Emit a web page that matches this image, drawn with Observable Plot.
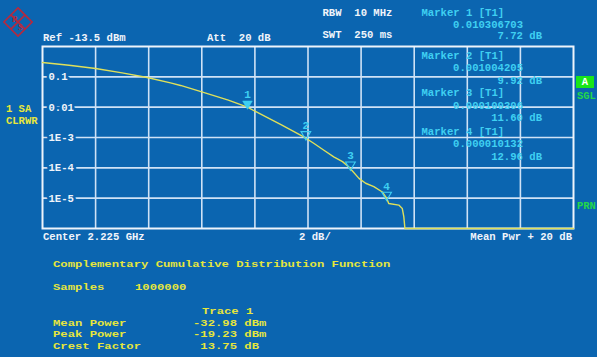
<!DOCTYPE html>
<html>
<head>
<meta charset="utf-8">
<script src="https://cdn.jsdelivr.net/npm/d3@7"></script>
<script src="https://cdn.jsdelivr.net/npm/@observablehq/plot@0.6"></script>
<style>
  html, body { margin: 0; padding: 0; background: #0b65b0; }
  #wrap { position: relative; width: 597px; height: 357px; background: #0b65b0; overflow: hidden; }
  #wrap svg.plot { position: absolute; left: 0; top: 0; }
  .t { position: absolute; font-family: "Liberation Mono", "DejaVu Sans Mono", monospace; font-weight: bold; white-space: pre; line-height: 1; }
  .w { color: #f0f4fa; font-size: 10.6px; }
  .c { color: #3fd0f2; font-size: 10.6px; }
  .y { color: #e6e63c; font-size: 9.8px; transform: scaleX(1.247); transform-origin: 0 50%; }
  .ys { color: #e6e63c; font-size: 10.5px; }
  .g { color: #22d84a; font-size: 10.5px; }
  .r { text-align: right; }
</style>
</head>
<body>
<div id="wrap"></div>
<script>
// ---- data ----
const ccdfX = [0, 1, 2, 3, 3.94, 4.82, 5.2, 6.0, 7.0, 7.72, 8.02, 9.0, 9.84, 10.2, 10.6, 10.97, 11.3, 11.54, 11.92, 12.17, 12.48, 12.8, 12.96, 13.04, 13.42, 13.55, 13.61, 13.65, 20];
const ccdfY = [0.297, 0.24, 0.188, 0.135, 0.095, 0.063, 0.052, 0.0319, 0.017, 0.0101, 0.0072, 0.0026, 0.00105, 0.00066, 0.00038, 0.00023, 0.00016, 0.000107, 0.000045, 0.000031, 0.000024, 0.000016, 0.0000101, 0.0000067, 0.0000059, 0.0000046, 0.0000024, 0.000001, 0.000001];

const markerX = [7.72, 9.92, 11.60, 12.96];
const markerY = [0.010306703, 0.001004205, 0.000100306, 0.000010132];
const markerLabel = ["1", "2", "3", "4"];
const markerDB = ["7.72 dB", "9.92 dB", "11.60 dB", "12.96 dB"];
const markerVal = ["0.010306703", "0.001004205", "0.000100306", "0.000010132"];

const gridX = [2, 4, 6, 8, 10, 12, 14, 16, 18];
const gridY = [0.1, 0.01, 1e-3, 1e-4, 1e-5];
const gridYLabels = ["0.1", "0.01", "1E-3", "1E-4", "1E-5"];

const statNames = ["Mean Power", "Peak Power", "Crest Factor"];
const statValues = ["-32.98 dBm", "-19.23 dBm", " 13.75 dB"];

// ---- chart ----
const BG = "#0b65b0";
const GRID = "#cfe2f6";
const FONT = "Liberation Mono, DejaVu Sans Mono, monospace";
const curve = ccdfX.map((x, i) => ({x, y: ccdfY[i]}));
const markers = markerX.map((x, i) => ({x, y: markerY[i], label: markerLabel[i], active: i === 0}));
const yticks = gridY.map((y, i) => ({y, label: gridYLabels[i]}));

const plot = Plot.plot({
  width: 597,
  height: 357,
  marginLeft: 42,
  marginRight: 24,
  marginTop: 46,
  marginBottom: 129,
  style: {background: "transparent", overflow: "visible"},
  x: {domain: [0, 20], axis: null},
  y: {type: "log", domain: [1e-6, 1], axis: null},
  marks: [
    Plot.ruleX(gridX, {x: d => d, stroke: GRID, strokeWidth: 1.6}),
    Plot.ruleY(gridY, {y: d => d, stroke: GRID, strokeWidth: 1.6}),
    Plot.text(yticks, {x: () => 0, y: "y", text: "label", dx: 6, textAnchor: "start",
      fill: "#f0f4fa", stroke: BG, strokeWidth: 5, paintOrder: "stroke",
      fontFamily: FONT, fontWeight: "bold", fontSize: 10.6}),
    Plot.frame({stroke: "#eef4fb", strokeWidth: 2}),
    Plot.line(curve, {x: "x", y: "y", stroke: "#dfe05a", strokeWidth: 1.4, curve: "linear"}),
    Plot.dot(markers.filter(d => d.active), {x: "x", y: "y", symbol: "triangle", rotate: 180, r: 3.6, dy: -3, fill: "#3fd0f2", stroke: "#3fd0f2", strokeWidth: 0.5}),
    Plot.dot(markers.filter(d => !d.active), {x: "x", y: "y", symbol: "triangle", rotate: 180, r: 3.6, dy: -3, fill: "none", stroke: "#3fd0f2", strokeWidth: 1.1}),
    Plot.text(markers, {x: "x", y: "y", text: "label", dy: -12, fill: "#3fd0f2", fontFamily: FONT, fontWeight: "bold", fontSize: 11})
  ]
});
plot.classList.add("plot");
const wrap = document.getElementById("wrap");
wrap.appendChild(plot);

// ---- annotation texts ----
function txt(s, cls, x, cy, right) {
  const d = document.createElement("div");
  d.className = "t " + cls + (right ? " r" : "");
  d.textContent = s;
  const fs = cls === "y" ? 9.8 : 10.6;
  d.style.top = (cy - fs * 0.55) + "px";
  if (right) { d.style.right = (597 - x) + "px"; } else { d.style.left = x + "px"; }
  wrap.appendChild(d);
}

// logo
const logo = document.createElementNS("http://www.w3.org/2000/svg", "svg");
logo.setAttribute("width", "34"); logo.setAttribute("height", "34");
logo.style.position = "absolute"; logo.style.left = "1px"; logo.style.top = "5px";
logo.innerHTML = '<g transform="translate(17,17) rotate(45)" fill="none" stroke="#b8283c" stroke-width="1.6">' +
  '<rect x="-10" y="-10" width="20" height="20"/><line x1="-10" y1="0" x2="10" y2="0"/><line x1="0" y1="-10" x2="0" y2="10"/></g>' +
  '<text x="11" y="17" font-family="Liberation Serif" font-size="8" font-weight="bold" fill="#b8283c">R</text>' +
  '<text x="17" y="25" font-family="Liberation Serif" font-size="8" font-weight="bold" fill="#b8283c">S</text>';
wrap.appendChild(logo);

txt("Ref -13.5 dBm", "w", 43, 38.5);
txt("Att  20 dB", "w", 207, 38.5);
txt("RBW  10 MHz", "w", 322.5, 14);
txt("SWT  250 ms", "w", 322.5, 36);

const markerCY = [13.5, 56.4, 94.3, 132.7];
markerCY.forEach((cy, i) => {
  const step = i === 0 ? 11.9 : 12.5;
  txt("Marker " + markerLabel[i] + " [T1]", "c", 421.5, cy);
  txt(markerVal[i], "c", 523, cy + step, true);
  txt(markerDB[i], "c", 542, cy + 2 * step, true);
});

// A badge
const badge = document.createElement("div");
badge.className = "t";
badge.textContent = "A";
Object.assign(badge.style, {left: "576px", top: "76px", width: "18px", height: "12px", background: "#19e619",
  color: "#ffffff", fontSize: "10.5px", textAlign: "center", lineHeight: "12px"});
wrap.appendChild(badge);
txt("SGL", "g", 577, 97.3);
txt("PRN", "g", 577, 206.7);

txt("1 SA", "ys", 6, 109.5);
txt("CLRWR", "ys", 6, 121.7);

txt("Center 2.225 GHz", "w", 43, 237.7);
txt("2 dB/", "w", 299, 237.7);
txt("Mean Pwr + 20 dB", "w", 572, 237.7, true);

txt("Complementary Cumulative Distribution Function", "y", 53.3, 265.7);
txt("Samples", "y", 53.3, 288.3);
txt("1000000", "y", 135, 288.3);
txt("Trace 1", "y", 201.7, 312.7);
const statCY = [324.3, 335.7, 347];
statNames.forEach((n, i) => {
  txt(n, "y", 53.3, statCY[i]);
  txt(statValues[i], "y", 193.3, statCY[i]);
});
</script>
</body>
</html>
